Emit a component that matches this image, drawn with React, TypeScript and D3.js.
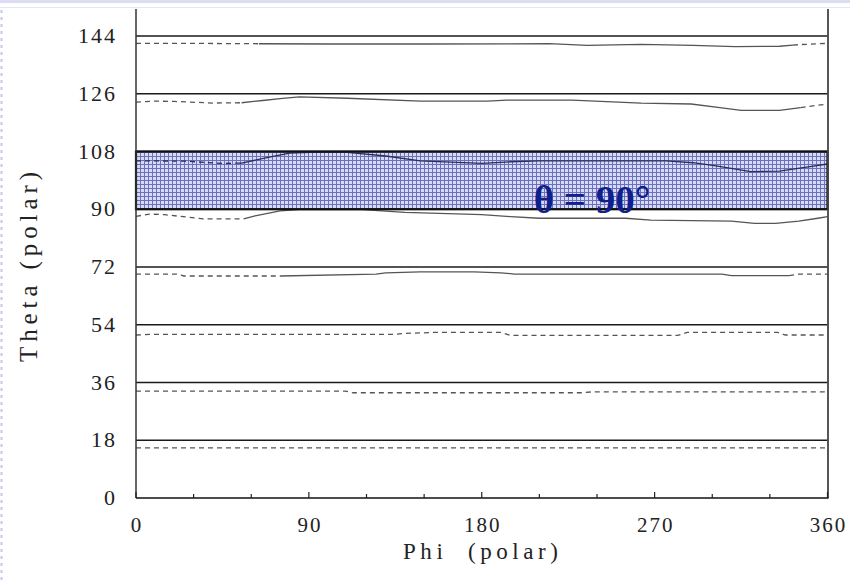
import React from "react";
import * as d3 from "d3";

const thetaTicks = [0, 18, 36, 54, 72, 90, 108, 126, 144];
const phiTicks = [0, 90, 180, 270, 360];
const phiMinorTicks = [30, 60, 120, 150, 210, 240, 300, 330];
const bandRange = [90, 108];
const bandLabel = "θ = 90°";
const xTitle = "Phi  (polar)";
const yTitle = "Theta (polar)";

const c144Phi = [0, 30, 60, 100, 150, 215, 235, 263, 290, 312, 335, 345, 360];
const c144Theta = [141.7, 141.7, 141.6, 141.5, 141.5, 141.6, 141.1, 141.4, 141.1, 140.7, 140.8, 141.3, 141.7];
const c144Dashed = [[0, 64], [342, 360]];

const c126Phi = [0, 10, 20, 40, 55, 66, 75, 85, 110, 148, 183, 193, 227, 263, 289, 304, 315, 335, 346, 360];
const c126Theta = [123.4, 123.7, 123.6, 123.1, 123.2, 123.9, 124.5, 125.0, 124.6, 123.7, 123.7, 124.0, 124.0, 123.1, 122.8, 121.7, 120.8, 120.8, 121.7, 122.8];
const c126Dashed = [[0, 55], [346, 360]];

const c108Phi = [0, 25, 45, 55, 70, 80, 95, 110, 130, 148, 180, 195, 210, 276, 290, 302, 320, 335, 350, 360];
const c108Theta = [105.1, 105.0, 104.3, 104.4, 106.3, 107.5, 107.8, 107.7, 106.6, 105.1, 104.3, 104.8, 105.1, 105.1, 104.5, 103.5, 101.7, 101.9, 103.2, 104.1];
const c108Dashed = [[0, 52]];

const c90Phi = [0, 7, 15, 35, 56, 62, 75, 85, 118, 140, 180, 195, 210, 255, 268, 310, 322, 333, 345, 355, 360];
const c90Theta = [87.8, 88.5, 88.3, 87.0, 87.0, 87.9, 89.5, 89.9, 89.9, 89.0, 88.3, 87.7, 87.2, 87.2, 86.6, 86.3, 85.6, 85.6, 86.3, 87.2, 87.7];
const c90Dashed = [[0, 56]];

const c72Phi = [0, 21, 25, 75, 125, 130, 148, 176, 190, 197, 305, 310, 340, 345, 360];
const c72Theta = [69.8, 69.8, 69.2, 69.2, 69.8, 70.2, 70.5, 70.5, 70.2, 69.8, 69.8, 69.3, 69.3, 69.8, 69.8];
const c72Dashed = [[0, 75], [340, 360]];

const c54Phi = [0, 7, 134, 140, 155, 190, 195, 282, 287, 334, 338, 360];
const c54Theta = [50.8, 51.0, 51.0, 51.3, 51.6, 51.6, 50.7, 50.7, 51.6, 51.6, 50.8, 50.8];
const c54Dashed = [[0, 360]];

const c36Phi = [0, 109, 113, 232, 238, 360];
const c36Theta = [33.3, 33.3, 32.8, 32.8, 33.1, 33.1];
const c36Dashed = [[0, 360]];

const c18Phi = [0, 360];
const c18Theta = [15.6, 15.6];
const c18Dashed = [[0, 360]];

const curves = [
  { phi: c144Phi, theta: c144Theta, dashed: c144Dashed },
  { phi: c126Phi, theta: c126Theta, dashed: c126Dashed },
  { phi: c108Phi, theta: c108Theta, dashed: c108Dashed },
  { phi: c90Phi, theta: c90Theta, dashed: c90Dashed },
  { phi: c72Phi, theta: c72Theta, dashed: c72Dashed },
  { phi: c54Phi, theta: c54Theta, dashed: c54Dashed },
  { phi: c36Phi, theta: c36Theta, dashed: c36Dashed },
  { phi: c18Phi, theta: c18Theta, dashed: c18Dashed },
];

const W = 850;
const H = 581;
const left = 136;
const right = 827.5;
const bottom = 498;
const axisTop = 9;

function segments(phi: number[], theta: number[], dashed: number[][]) {
  const interp = d3.scaleLinear().domain(phi).range(theta);
  const bps = Array.from(new Set([0, 360, ...dashed.flat()])).sort((a, b) => a - b);
  const out: { dashed: boolean; pts: [number, number][] }[] = [];
  for (let i = 0; i < bps.length - 1; i++) {
    const a = bps[i];
    const b = bps[i + 1];
    const mid = (a + b) / 2;
    const isDashed = dashed.some(([s, e]) => mid >= s && mid <= e);
    const pts: [number, number][] = [[a, interp(a)]];
    phi.forEach((p, j) => {
      if (p > a && p < b) pts.push([p, theta[j]]);
    });
    pts.push([b, interp(b)]);
    out.push({ dashed: isDashed, pts });
  }
  return out;
}

export default function App() {
  const x = d3.scaleLinear().domain([0, 360]).range([left, right]);
  const y = d3.scaleLinear().domain([0, 144]).range([bottom, 36]);
  const line = d3
    .line<[number, number]>()
    .x((d) => x(d[0]))
    .y((d) => y(d[1]));

  const serif = "'Liberation Serif', 'Times New Roman', serif";

  return (
    <svg
      width={W}
      height={H}
      style={{ position: "absolute", left: 0, top: 0, background: "#fff" }}
    >
      <defs>
        <pattern id="bandGrid" width={4} height={4} patternUnits="userSpaceOnUse">
          <rect width={4} height={4} fill="#d8daf2" />
          <path d="M0,0.5 H4 M0.5,0 V4" stroke="#6870bf" strokeWidth={1} />
        </pattern>
      </defs>

      {/* slide frame decorations */}
      <rect x={0} y={0} width={W} height={3} fill="#dcdcf4" />
      <line x1={0} x2={W} y1={7.5} y2={7.5} stroke="#e4e4f8" strokeWidth={1} />
      <line x1={1.5} x2={1.5} y1={10} y2={H} stroke="#c4c8ec" strokeWidth={2} strokeDasharray="3,4" />

      {/* band fill */}
      <rect
        x={x(0)}
        y={y(bandRange[1])}
        width={x(360) - x(0)}
        height={y(bandRange[0]) - y(bandRange[1])}
        fill="url(#bandGrid)"
      />

      {/* horizontal reference lines */}
      {thetaTicks
        .filter((t) => t > 0)
        .map((t) => (
          <line
            key={"h" + t}
            x1={x(0)}
            x2={x(360)}
            y1={y(t)}
            y2={y(t)}
            stroke="#1a1a1a"
            strokeWidth={1.3}
          />
        ))}

      {/* curves */}
      {curves.map((c, i) =>
        segments(c.phi, c.theta, c.dashed).map((s, j) => (
          <path
            key={`c${i}-${j}`}
            d={line(s.pts) || ""}
            fill="none"
            stroke={i === 2 ? "#2b2f55" : "#555"}
            strokeWidth={1.3}
            strokeDasharray={s.dashed ? "5,4" : undefined}
          />
        ))
      )}

      {/* band border */}
      <rect
        x={x(0)}
        y={y(bandRange[1])}
        width={x(360) - x(0)}
        height={y(bandRange[0]) - y(bandRange[1])}
        fill="none"
        stroke="#111"
        strokeWidth={2.2}
      />

      {/* axes */}
      <line x1={left} x2={left} y1={axisTop} y2={bottom} stroke="#333" strokeWidth={1.5} />
      <line x1={right + 0.5} x2={right + 0.5} y1={axisTop} y2={bottom} stroke="#444" strokeWidth={1.8} />
      <line x1={left} x2={right + 1} y1={bottom} y2={bottom} stroke="#111" strokeWidth={1.6} />

      {phiTicks.map((p) => (
        <line key={"mt" + p} x1={x(p)} x2={x(p)} y1={bottom} y2={bottom - 6} stroke="#222" strokeWidth={1.2} />
      ))}
      {phiMinorTicks.map((p) => (
        <line key={"mn" + p} x1={x(p)} x2={x(p)} y1={bottom} y2={bottom - 4} stroke="#222" strokeWidth={1.2} />
      ))}

      {/* tick labels */}
      {thetaTicks.map((t) => (
        <text
          key={"yl" + t}
          x={117}
          y={y(t) + 7}
          textAnchor="end"
          fontFamily={serif}
          fontSize={22}
          letterSpacing={2}
          fill="#222"
        >
          {t}
        </text>
      ))}
      {phiTicks.map((p) => (
        <text
          key={"xl" + p}
          x={x(p) + 1}
          y={531.5}
          textAnchor="middle"
          fontFamily={serif}
          fontSize={21}
          letterSpacing={2}
          fill="#222"
        >
          {p}
        </text>
      ))}

      {/* axis titles */}
      <text
        x={403}
        y={559}
        fontFamily={serif}
        fontSize={23}
        fill="#222"
        textLength={155}
        lengthAdjust="spacing"
        style={{ whiteSpace: "pre" }}
      >
        {xTitle}
      </text>
      <text
        transform={`translate(37, 362) rotate(-90)`}
        fontFamily={serif}
        fontSize={25}
        fill="#222"
        textLength={190}
        lengthAdjust="spacing"
      >
        {yTitle}
      </text>

      {/* band label */}
      <text
        x={592}
        y={213}
        textAnchor="middle"
        fontFamily={serif}
        fontWeight="bold"
        fontSize={39}
        fill="#0f1f8c"
      >
        {bandLabel}
      </text>
    </svg>
  );
}
